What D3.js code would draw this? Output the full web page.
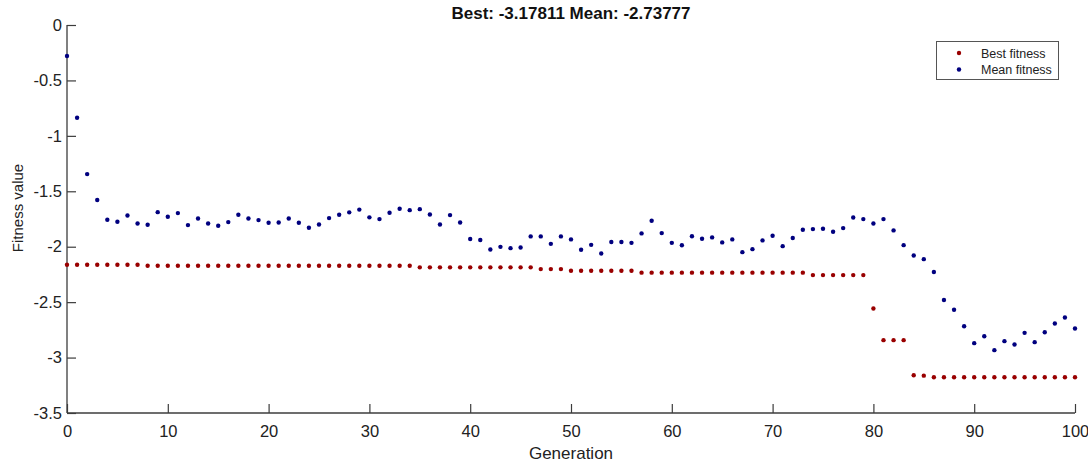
<!DOCTYPE html>
<html>
<head>
<meta charset="utf-8">
<script src="https://cdn.jsdelivr.net/npm/d3@7"></script>
<style>
  html, body { margin: 0; padding: 0; background: #fff; }
  svg { display: block; font-family: "Liberation Sans", Arial, sans-serif; }
</style>
</head>
<body>
<svg id="chart" width="1088" height="465"></svg>
<script>
// ---- data ----
const generations = d3.range(0, 101);
const bestFitness = [
  -2.163, -2.163, -2.163, -2.163, -2.163, -2.163, -2.163, -2.163, -2.172, -2.172,
  -2.172, -2.172, -2.172, -2.172, -2.172, -2.172, -2.172, -2.172, -2.172, -2.172,
  -2.172, -2.172, -2.172, -2.172, -2.172, -2.172, -2.172, -2.172, -2.172, -2.172,
  -2.172, -2.172, -2.172, -2.172, -2.172, -2.186, -2.186, -2.186, -2.186, -2.186,
  -2.186, -2.186, -2.186, -2.186, -2.186, -2.186, -2.186, -2.202, -2.202, -2.202,
  -2.217, -2.217, -2.217, -2.217, -2.217, -2.217, -2.217, -2.234, -2.234, -2.234,
  -2.234, -2.234, -2.234, -2.234, -2.234, -2.234, -2.234, -2.234, -2.234, -2.234,
  -2.234, -2.234, -2.234, -2.234, -2.256, -2.256, -2.256, -2.256, -2.256, -2.256,
  -2.557, -2.843, -2.843, -2.843, -3.159, -3.163, -3.178, -3.178, -3.178, -3.178,
  -3.178, -3.178, -3.178, -3.178, -3.178, -3.178, -3.178, -3.178, -3.178, -3.178,
  -3.17811
];
const meanFitness = [
  -0.280, -0.837, -1.345, -1.579, -1.757, -1.775, -1.718, -1.790, -1.802, -1.688,
  -1.730, -1.697, -1.805, -1.745, -1.790, -1.811, -1.778, -1.712, -1.745, -1.760,
  -1.784, -1.781, -1.745, -1.784, -1.829, -1.799, -1.742, -1.712, -1.690, -1.665,
  -1.735, -1.751, -1.694, -1.658, -1.670, -1.661, -1.709, -1.799, -1.715, -1.781,
  -1.931, -1.940, -2.025, -2.001, -2.013, -2.007, -1.907, -1.907, -1.974, -1.907,
  -1.934, -2.028, -1.983, -2.061, -1.958, -1.958, -1.965, -1.880, -1.766, -1.877,
  -1.965, -1.987, -1.905, -1.928, -1.916, -1.961, -1.934, -2.049, -2.022, -1.943,
  -1.901, -1.995, -1.922, -1.847, -1.841, -1.838, -1.865, -1.832, -1.736, -1.751,
  -1.790, -1.751, -1.853, -1.986, -2.079, -2.112, -2.228, -2.480, -2.569, -2.717,
  -2.870, -2.807, -2.933, -2.852, -2.882, -2.777, -2.861, -2.771, -2.693, -2.638,
  -2.73777
];
const xTicks = [0, 10, 20, 30, 40, 50, 60, 70, 80, 90, 100];
const yTicks = [0, -0.5, -1, -1.5, -2, -2.5, -3, -3.5];
const seriesNames = ["Best fitness", "Mean fitness"];
const titleText = "Best: -3.17811 Mean: -2.73777";
const xLabel = "Generation";
const yLabel = "Fitness value";

// ---- layout ----
const svg = d3.select("#chart");
const mLeft = 67, mRight = 1075, mTop = 25, mBottom = 413;
const axisColor = "#3c3c3c";
const textColor = "#222";
const colors = ["#990000", "#00007f"];

const x = d3.scaleLinear().domain([0, 100]).range([mLeft, mRight]);
const y = d3.scaleLinear().domain([-3.5, 0]).range([mBottom, mTop]);

// axes
const xAxis = d3.axisBottom(x).tickValues(xTicks).tickSize(-9).tickPadding(12).tickFormat(d3.format("d"));
const yAxis = d3.axisLeft(y).tickValues(yTicks).tickSize(-9).tickPadding(5).tickFormat(d => String(d));

const gx = svg.append("g").attr("transform", `translate(0,${mBottom})`).call(xAxis);
const gy = svg.append("g").attr("transform", `translate(${mLeft},0)`).call(yAxis);
[gx, gy].forEach(g => {
  g.select(".domain").attr("stroke", axisColor).attr("stroke-width", 1.3);
  g.selectAll(".tick line").attr("stroke", axisColor).attr("stroke-width", 1.2);
  g.selectAll(".tick text").attr("fill", textColor).style("font-size", "16.5px")
    .style("font-family", "'Liberation Sans', Arial, sans-serif");
});
gx.select(".domain").attr("d", `M${mLeft},0H${mRight}`);
gy.select(".domain").attr("d", `M0,${mBottom}V${mTop}`);

// points
const seriesData = [bestFitness, meanFitness];
seriesData.forEach((vals, i) => {
  svg.append("g").selectAll("circle")
    .data(vals)
    .join("circle")
    .attr("cx", (d, j) => x(generations[j]))
    .attr("cy", d => y(d))
    .attr("r", 2.2)
    .attr("fill", colors[i]);
});

// title
svg.append("text")
  .attr("x", (mLeft + mRight) / 2).attr("y", 19)
  .attr("text-anchor", "middle")
  .attr("font-weight", "bold")
  .attr("font-size", 17)
  .attr("fill", "#111")
  .text(titleText);

// x label
svg.append("text")
  .attr("x", (mLeft + mRight) / 2).attr("y", 459)
  .attr("text-anchor", "middle")
  .attr("font-size", 17)
  .attr("fill", textColor)
  .text(xLabel);

// y label
svg.append("text")
  .attr("transform", `translate(23,${(mTop + mBottom) / 2 - 11}) rotate(-90)`)
  .attr("text-anchor", "middle")
  .attr("font-size", 15)
  .attr("fill", textColor)
  .text(yLabel);

// legend
const lg = svg.append("g");
lg.append("rect")
  .attr("x", 936.5).attr("y", 41.5).attr("width", 122).attr("height", 38)
  .attr("fill", "#fff").attr("stroke", "#555").attr("stroke-width", 1);
seriesNames.forEach((name, i) => {
  const cy = 53 + i * 16.5;
  lg.append("circle").attr("cx", 959).attr("cy", cy).attr("r", 2.2).attr("fill", colors[i]);
  lg.append("text").attr("x", 981).attr("y", cy + 4.5)
    .attr("font-size", 12.5).attr("fill", textColor).text(name);
});
</script>
</body>
</html>
